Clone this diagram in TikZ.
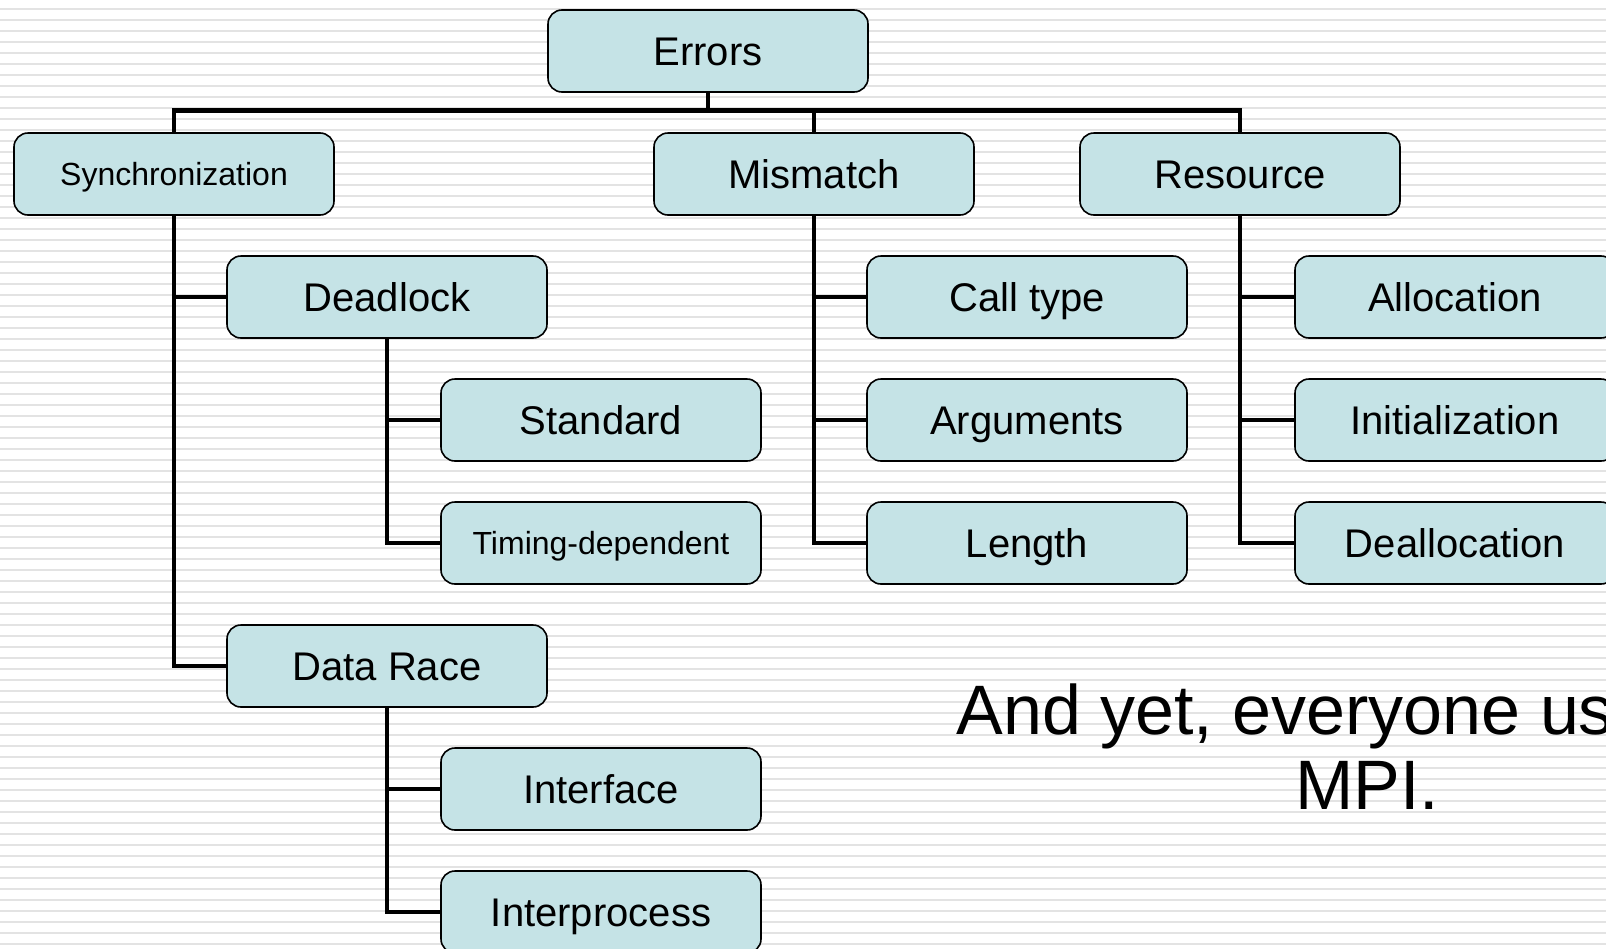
\documentclass[tikz,border=0pt]{standalone}
\usepackage{fontspec}
\setmainfont{Liberation Sans}
\usepackage{xcolor}
\definecolor{boxfill}{RGB}{197,227,230}
\definecolor{stripe}{RGB}{227,227,227}

\begin{document}
\begin{tikzpicture}[x=0.5pt, y=-0.5pt,
    cat/.style={draw=black, line width=0.8pt, fill=boxfill, rounded corners=7pt,
        minimum width=160pt, minimum height=41pt, inner sep=0pt,
        text height=14.4pt, text depth=0pt,
        font=\fontsize{20}{24}\selectfont},
    small/.style={text height=11.5pt, font=\fontsize{16}{19}\selectfont},
    link/.style={line width=2.3pt}]
    % Page frame, everything outside is cut away
    \useasboundingbox (0,0) rectangle (1606,948);
    \clip (0,0) rectangle (1606,948);

    % Striped background
    \fill[white] (0,0) rectangle (1606,948);
    \foreach \k in {0,...,86}
        \fill[stripe] (0,{9+11*\k-1.35}) rectangle (1606,{9+11*\k+1.35});

    % Top of the tree
    \node[cat] (errors) at (708,51) {Errors};
    \node[cat, small] (sync) at (174,174) {Synchronization};
    \node[cat] (mismatch) at (814,174) {Mismatch};
    \node[cat] (resource) at (1240,174) {Resource};

    % Synchronization branch
    \node[cat] (deadlock) at (387,297) {Deadlock};
    \node[cat] (standard) at (601,420) {Standard};
    \node[cat, small] (timing) at (601,543) {Timing-dependent};
    \node[cat] (race) at (387,666) {Data Race};
    \node[cat] (interface) at (601,789) {Interface};
    \node[cat] (interproc) at (601,912) {Interprocess};

    % Mismatch branch
    \node[cat] (calltype) at (1027,297) {Call type};
    \node[cat] (args) at (1027,420) {Arguments};
    \node[cat] (length) at (1027,543) {Length};

    % Resource branch
    \node[cat] (alloc) at (1455,297) {Allocation};
    \node[cat] (init) at (1455,420) {Initialization};
    \node[cat] (dealloc) at (1455,543) {Deallocation};

    % Bus under the root
    \coordinate (bus) at (708,110.6);
    \draw[link] (errors.south) -- (bus);
    \draw[link] (sync.north) -- (sync.north |- bus) -- (resource.north |- bus) -- (resource.north);
    \draw[link] (mismatch.north) -- (mismatch.north |- bus);

    % Trunks down to the children
    \draw[link] (sync.south) -- (sync.south |- race.west) -- (race.west);
    \draw[link] (sync.south |- deadlock.west) -- (deadlock.west);
    \draw[link] (deadlock.south) -- (deadlock.south |- timing.west) -- (timing.west);
    \draw[link] (deadlock.south |- standard.west) -- (standard.west);
    \draw[link] (race.south) -- (race.south |- interproc.west) -- (interproc.west);
    \draw[link] (race.south |- interface.west) -- (interface.west);
    \draw[link] (mismatch.south) -- (mismatch.south |- length.west) -- (length.west);
    \draw[link] (mismatch.south |- calltype.west) -- (calltype.west);
    \draw[link] (mismatch.south |- args.west) -- (args.west);
    \draw[link] (resource.south) -- (resource.south |- dealloc.west) -- (dealloc.west);
    \draw[link] (resource.south |- alloc.west) -- (alloc.west);
    \draw[link] (resource.south |- init.west) -- (init.west);

    % Closing remark
    \node[anchor=base west, inner sep=0pt, font=\fontsize{35}{42}\selectfont]
        (remarka) at (956,734) {And yet, everyone uses};
    \node[anchor=base, inner sep=0pt, font=\fontsize{35}{42}\selectfont]
        (remarkb) at (1367,809) {MPI.};
\end{tikzpicture}
\end{document}
